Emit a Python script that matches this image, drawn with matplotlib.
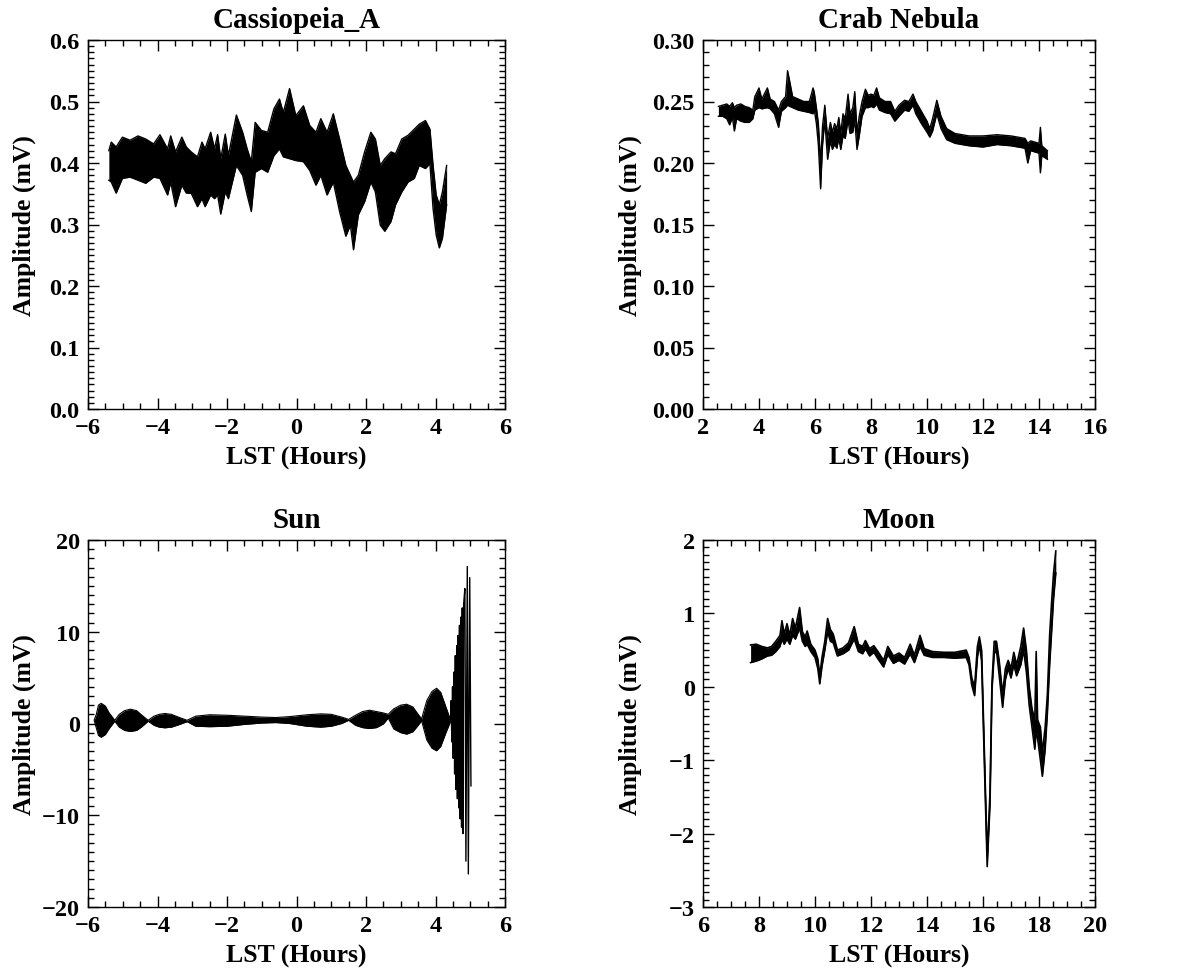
import matplotlib
matplotlib.use("Agg")
import matplotlib.pyplot as plt
from matplotlib.ticker import MultipleLocator, FuncFormatter

plt.rcParams['font.family'] = ['Liberation Serif', 'DejaVu Serif']
plt.rcParams['font.weight'] = 'bold'
plt.rcParams['axes.labelweight'] = 'bold'
plt.rcParams['axes.titleweight'] = 'bold'

# ---------------- Cassiopeia_A (band: lower / upper envelope) ----------------
cas_x = [-5.40, -5.33, -5.19, -5.01, -4.79, -4.56, -4.34, -4.11, -3.93, -3.71, -3.62,
         -3.48, -3.30, -3.17, -3.03, -2.85, -2.72, -2.63, -2.47, -2.36, -2.27, -2.18,
         -2.05, -1.96, -1.73, -1.55, -1.42, -1.30, -1.19, -1.01, -0.83, -0.65, -0.49,
         -0.38, -0.20, -0.02, 0.20, 0.38, 0.56, 0.70, 0.88, 1.06, 1.24, 1.42, 1.55,
         1.64, 1.78, 1.96, 2.14, 2.27, 2.41, 2.54, 2.72, 2.85, 3.03, 3.21, 3.39, 3.53,
         3.71, 3.84, 3.93, 4.02, 4.11, 4.20, 4.32]
cas_hi = [0.420, 0.434, 0.426, 0.442, 0.437, 0.444, 0.439, 0.431, 0.446, 0.423, 0.444,
          0.418, 0.442, 0.426, 0.418, 0.410, 0.434, 0.423, 0.450, 0.423, 0.446, 0.407,
          0.447, 0.412, 0.478, 0.450, 0.423, 0.402, 0.466, 0.453, 0.450, 0.488, 0.504,
          0.482, 0.521, 0.477, 0.493, 0.461, 0.450, 0.472, 0.450, 0.480, 0.439, 0.396,
          0.380, 0.369, 0.380, 0.418, 0.450, 0.439, 0.396, 0.407, 0.418, 0.415, 0.439,
          0.445, 0.455, 0.463, 0.469, 0.455, 0.396, 0.348, 0.332, 0.353, 0.396]
cas_lo = [0.372, 0.369, 0.351, 0.375, 0.377, 0.372, 0.367, 0.377, 0.375, 0.348, 0.369,
          0.329, 0.364, 0.351, 0.351, 0.329, 0.342, 0.329, 0.348, 0.342, 0.348, 0.317,
          0.353, 0.342, 0.396, 0.380, 0.348, 0.321, 0.385, 0.391, 0.385, 0.412, 0.423,
          0.410, 0.407, 0.404, 0.402, 0.388, 0.364, 0.380, 0.348, 0.369, 0.321, 0.281,
          0.299, 0.259, 0.316, 0.337, 0.369, 0.353, 0.299, 0.289, 0.305, 0.332, 0.353,
          0.369, 0.375, 0.396, 0.391, 0.399, 0.326, 0.283, 0.262, 0.278, 0.332]

# ---------------- Crab Nebula ----------------
crab_x = [2.55, 2.7, 2.85, 2.95, 3.05, 3.12, 3.2, 3.35, 3.5, 3.65, 3.78, 3.85, 4.0, 4.1,
          4.3, 4.4, 4.55, 4.7, 4.8, 4.95, 5.02, 5.1, 5.2, 5.4, 5.6, 5.8, 5.93, 5.97, 6.05,
          6.12, 6.2, 6.27, 6.35, 6.45, 6.55, 6.62, 6.7, 6.78, 6.85, 6.92, 7.0, 7.08, 7.18,
          7.25, 7.35, 7.42, 7.5, 7.58, 7.68, 7.8, 7.9, 8.0, 8.1, 8.2, 8.3, 8.5, 8.7, 8.85,
          9.0, 9.2, 9.35, 9.5, 9.6, 9.8, 10.0, 10.1, 10.2, 10.35, 10.5, 10.7, 11.0, 11.5,
          12.0, 12.5, 13.0, 13.5, 13.6, 13.7, 14.0, 14.05, 14.1, 14.3]
crab_lo = [0.238, 0.238, 0.236, 0.231, 0.237, 0.226, 0.236, 0.234, 0.233, 0.233, 0.236,
           0.243, 0.245, 0.244, 0.245, 0.244, 0.240, 0.229, 0.242, 0.245, 0.247, 0.246,
           0.245, 0.243, 0.242, 0.241, 0.240, 0.244, 0.232, 0.215, 0.179, 0.215, 0.235,
           0.203, 0.218, 0.211, 0.215, 0.212, 0.220, 0.211, 0.222, 0.220, 0.235, 0.224,
           0.225, 0.235, 0.211, 0.222, 0.238, 0.245, 0.245, 0.246, 0.245, 0.248, 0.243,
           0.241, 0.240, 0.234, 0.238, 0.243, 0.242, 0.247, 0.240, 0.232, 0.225, 0.221,
           0.226, 0.240, 0.228, 0.219, 0.216, 0.214, 0.213, 0.215, 0.214, 0.212, 0.200,
           0.210, 0.208, 0.192, 0.206, 0.203]
crab_hi = [0.246, 0.247, 0.248, 0.246, 0.249, 0.245, 0.247, 0.248, 0.246, 0.245, 0.243,
           0.254, 0.261, 0.252, 0.261, 0.252, 0.250, 0.243, 0.250, 0.254, 0.275, 0.266,
           0.254, 0.252, 0.250, 0.250, 0.261, 0.258, 0.245, 0.232, 0.200, 0.230, 0.247,
           0.220, 0.233, 0.225, 0.232, 0.228, 0.237, 0.224, 0.240, 0.236, 0.256, 0.240,
           0.245, 0.258, 0.225, 0.238, 0.250, 0.260, 0.255, 0.256, 0.255, 0.261, 0.253,
           0.250, 0.250, 0.242, 0.247, 0.251, 0.250, 0.256, 0.250, 0.242, 0.234, 0.228,
           0.236, 0.251, 0.238, 0.228, 0.224, 0.222, 0.222, 0.223, 0.222, 0.220, 0.216,
           0.218, 0.216, 0.229, 0.214, 0.210]

# ---------------- Sun: fringe envelope, then resolved fringes ----------------
sun_x = [-5.82, -5.76, -5.70, -5.62, -5.50, -5.40, -5.30, -5.23,
         -5.10, -4.95, -4.78, -4.60, -4.45, -4.27,
         -4.10, -3.95, -3.79, -3.60, -3.40, -3.15,
         -2.90, -2.50, -2.00, -1.50, -1.00, -0.60, -0.20, 0.30, 0.70, 1.00, 1.30, 1.50,
         1.70, 1.90, 2.10, 2.30, 2.50, 2.64,
         2.80, 3.00, 3.17, 3.35, 3.50, 3.60,
         3.75, 3.90, 4.03, 4.15, 4.30, 4.43]
sun_hi = [0.4, 1.0, 2.0, 2.2, 1.9, 1.2, 0.7, 0.35,
          1.0, 1.4, 1.56, 1.4, 0.9, 0.35,
          0.8, 1.0, 1.09, 1.0, 0.7, 0.35,
          0.8, 0.95, 0.9, 0.8, 0.7, 0.65, 0.75, 0.95, 1.05, 1.0, 0.7, 0.45,
          0.9, 1.3, 1.45, 1.3, 1.15, 1.0,
          1.6, 2.0, 2.1, 1.8, 1.0, 0.5,
          2.5, 3.5, 3.84, 3.4, 1.8, 0.4]
sun_lo = [0.3, -0.5, -1.3, -1.5, -1.2, -0.6, -0.1, 0.25,
          -0.4, -0.75, -0.87, -0.75, -0.35, 0.25,
          -0.2, -0.4, -0.47, -0.4, -0.15, 0.2,
          -0.3, -0.35, -0.3, -0.1, 0.05, 0.1, 0.0, -0.3, -0.4, -0.3, 0.0, 0.35,
          -0.2, -0.45, -0.55, -0.45, -0.05, 0.6,
          -0.6, -1.0, -1.16, -0.9, -0.2, 0.3,
          -1.8, -2.7, -2.97, -2.5, -1.0, 0.2]
sun_fr_x = [4.43, 4.45, 4.47, 4.49, 4.51, 4.53, 4.55, 4.57, 4.59, 4.61, 4.63, 4.65,
            4.67, 4.69, 4.71, 4.73, 4.75, 4.77, 4.79, 4.81, 4.845, 4.875, 4.915,
            4.945, 4.985, 5.02]
sun_fr_y = [0.3, 2.5, -2.0, 4.0, -3.8, 5.6, -5.5, 7.4, -7.2, 8.5, -8.2, 9.6,
            -9.2, 10.7, -10.4, 11.6, -11.3, 12.6, -12.0, 13.0, 14.7, -15.0, 17.1,
            -16.4, 15.9, -6.8]

# ---------------- Moon ----------------
moon_x = [7.7, 7.9, 8.1, 8.3, 8.45, 8.6, 8.75, 8.82, 8.9, 9.0, 9.1, 9.2, 9.3, 9.45,
          9.55, 9.65, 9.72, 9.85, 10.0, 10.1, 10.17, 10.25, 10.35, 10.45, 10.55, 10.65,
          10.8, 11.0, 11.2, 11.4, 11.55, 11.7, 11.8, 11.95, 12.1, 12.25, 12.45, 12.6,
          12.8, 13.0, 13.2, 13.4, 13.55, 13.75, 13.9, 14.2, 14.6, 15.0, 15.4, 15.5,
          15.6, 15.7, 15.8, 15.87, 15.95, 16.05, 16.15, 16.25, 16.32, 16.4, 16.48,
          16.58, 16.7, 16.8, 16.9, 17.0, 17.1, 17.2, 17.35, 17.45, 17.55, 17.65,
          17.75, 17.85, 17.9, 17.95, 18.05, 18.12, 18.22, 18.3, 18.38, 18.45, 18.52,
          18.6]
moon_lo = [0.33, 0.35, 0.38, 0.42, 0.43, 0.48, 0.55, 0.65, 0.58, 0.65, 0.58, 0.70,
           0.65, 0.80, 0.62, 0.55, 0.58, 0.48, 0.40, 0.25, 0.04, 0.28, 0.50, 0.75,
           0.62, 0.60, 0.42, 0.45, 0.50, 0.65, 0.48, 0.45, 0.52, 0.42, 0.47, 0.38,
           0.27, 0.44, 0.32, 0.36, 0.31, 0.45, 0.33, 0.55, 0.43, 0.40, 0.40, 0.39,
           0.40, 0.30, 0.02, -0.12, 0.40, 0.58, 0.35, -1.05, -2.45, -1.60, -0.05,
           0.45, 0.50, 0.15, -0.28, 0.10, 0.25, 0.12, 0.30, 0.15, 0.30, 0.50, 0.20,
           -0.25, -0.55, -0.85, -0.60, -0.70, -1.00, -1.22, -0.85, -0.35, 0.30, 0.75,
           1.20, 1.55]
moon_hi = [0.57, 0.58, 0.55, 0.53, 0.55, 0.62, 0.70, 0.90, 0.72, 0.86, 0.70, 0.93,
           0.80, 1.08, 0.75, 0.68, 0.76, 0.58, 0.50, 0.38, 0.15, 0.40, 0.62, 0.93,
           0.78, 0.72, 0.50, 0.53, 0.60, 0.82, 0.58, 0.55, 0.63, 0.52, 0.56, 0.48,
           0.36, 0.55, 0.42, 0.46, 0.40, 0.58, 0.43, 0.70, 0.52, 0.48, 0.47, 0.47,
           0.50, 0.40, 0.12, 0.00, 0.55, 0.68, 0.50, -0.90, -2.30, -1.45, 0.05,
           0.62, 0.62, 0.35, -0.10, 0.25, 0.36, 0.25, 0.47, 0.30, 0.55, 0.80, 0.50,
           0.00, -0.30, -0.45, 0.48, -0.45, -0.55, -0.90, -0.55, -0.10, 0.70, 1.15,
           1.55, 1.85]

# ---------------- figure ----------------
fig = plt.figure(figsize=(11.85, 9.78), dpi=100)
W, H = 1185.0, 978.0

def make_ax(l, r, t, b):
    return fig.add_axes([l / W, 1 - b / H, (r - l) / W, (b - t) / H])

TICK_FS = 17.5
LAB_FS = 18.5
TIT_FS = 21

def fmt_factory(dec):
    def f(v, pos):
        s = ('%.' + str(dec) + 'f') % v
        if s.startswith('-'):
            if float(s) == 0:
                s = s[1:]
            else:
                s = '\u2212' + s[1:]
        return s
    return FuncFormatter(f)

def style(ax, title, xlim, ylim, xmaj, xmin, ymaj, ymin, ydec, ylab_x):
    ax.set_xlim(*xlim)
    ax.set_ylim(*ylim)
    ax.xaxis.set_major_locator(MultipleLocator(xmaj))
    ax.xaxis.set_minor_locator(MultipleLocator(xmin))
    ax.yaxis.set_major_locator(MultipleLocator(ymaj))
    ax.yaxis.set_minor_locator(MultipleLocator(ymin))
    ax.yaxis.set_major_formatter(fmt_factory(ydec))
    ax.xaxis.set_major_formatter(fmt_factory(0))
    ax.tick_params(which='both', direction='in', top=True, right=True,
                   width=1.0, labelsize=TICK_FS)
    ax.tick_params(which='major', length=8, pad=6)
    ax.tick_params(which='minor', length=4)
    for lab in ax.get_xticklabels() + ax.get_yticklabels():
        lab.set_fontweight('bold')
    for s in ax.spines.values():
        s.set_linewidth(1.0)
    ax.set_title(title, fontsize=TIT_FS, fontweight='bold', pad=9)
    ax.set_xlabel('LST (Hours)', fontsize=LAB_FS, fontweight='bold')
    ax.set_ylabel('Amplitude (mV)', fontsize=LAB_FS, fontweight='bold')
    ax.xaxis.set_label_coords(0.5, -0.1)
    ax.yaxis.set_label_coords(ylab_x, 0.5)

def band(ax, x, lo, hi, lw=1.0):
    ax.fill_between(x, lo, hi, color='black', linewidth=0)
    ax.plot(x, hi, color='black', lw=lw)
    ax.plot(x, lo, color='black', lw=lw)

ax1 = make_ax(88, 505, 41, 410)
band(ax1, cas_x, cas_lo, cas_hi)
style(ax1, 'Cassiopeia_A', (-6, 6), (0, 0.6), 2, 0.5, 0.1, 0.01, 1, -0.125)

ax2 = make_ax(703, 1095, 41, 410)
band(ax2, crab_x, crab_lo, crab_hi)
style(ax2, 'Crab Nebula', (2, 16), (0, 0.30), 2, 0.5, 0.05, 0.01, 2, -0.155)

ax3 = make_ax(88, 505, 541, 908)
band(ax3, sun_x, sun_lo, sun_hi, lw=0.8)
ax3.plot(sun_fr_x, sun_fr_y, color='black', lw=1.0)
style(ax3, 'Sun', (-6, 6), (-20, 20), 2, 0.5, 10, 1, 0, -0.125)

ax4 = make_ax(703, 1095, 541, 908)
band(ax4, moon_x, moon_lo, moon_hi, lw=1.2)
style(ax4, 'Moon', (6, 20), (-3, 2), 2, 0.5, 1, 0.1, 0, -0.155)

fig.savefig('out.png', dpi=100)
